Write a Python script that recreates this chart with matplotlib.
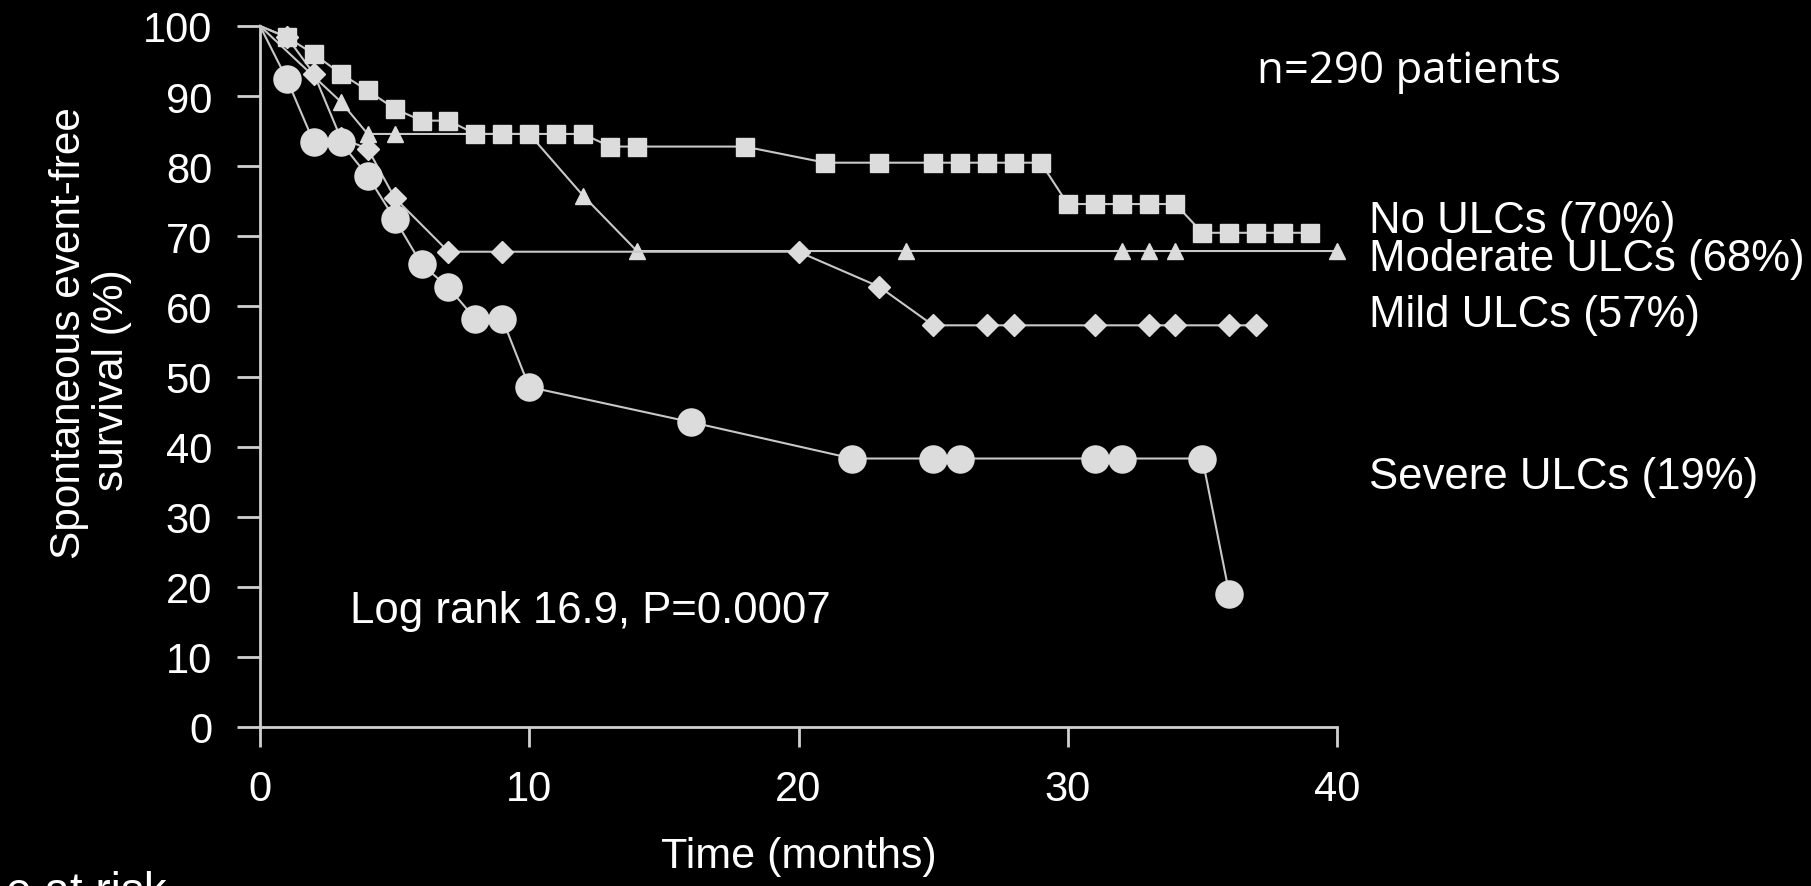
import matplotlib
matplotlib.use("Agg")
import matplotlib.pyplot as plt

# ---------------- data ----------------
t_none = [0, 1, 2, 3, 4, 5, 6, 7, 8, 9, 10, 11, 12, 13, 14, 18, 21, 23, 25, 26, 27, 28, 29,
          30, 31, 32, 33, 34, 35, 36, 37, 38, 39]
s_none = [100, 98.4, 96.0, 93.2, 90.8, 88.2, 86.5, 86.5, 84.6, 84.6, 84.6, 84.6, 84.6, 82.8, 82.8,
          82.8, 80.5, 80.5, 80.5, 80.5, 80.5, 80.5, 80.5, 74.6, 74.6, 74.6, 74.6, 74.6,
          70.5, 70.5, 70.5, 70.5, 70.5]

t_mod = [0, 3, 4, 5, 10, 12, 14, 24, 32, 33, 34, 40]
s_mod = [100, 89.2, 84.6, 84.6, 84.6, 75.8, 67.9, 67.9, 67.9, 67.9, 67.9, 67.9]

t_mild = [0, 1, 2, 3, 4, 5, 7, 9, 20, 23, 25, 27, 28, 31, 33, 34, 36, 37]
s_mild = [100, 98.4, 93.2, 84.0, 82.5, 75.5, 67.8, 67.8, 67.8, 62.8, 57.3, 57.3, 57.3, 57.3,
          57.3, 57.3, 57.3, 57.3]

t_sev = [0, 1, 2, 3, 4, 5, 6, 7, 8, 9, 10, 16, 22, 25, 26, 31, 32, 35, 36]
s_sev = [100, 92.4, 83.4, 83.4, 78.6, 72.5, 66.0, 62.7, 58.2, 58.2, 48.5, 43.5, 38.3, 38.3,
         38.3, 38.3, 38.3, 38.3, 19.0]

x_ticks = [0, 10, 20, 30, 40]
y_ticks = [0, 10, 20, 30, 40, 50, 60, 70, 80, 90, 100]

group_labels = ["No ULCs (70%)", "Moderate ULCs (68%)", "Mild ULCs (57%)", "Severe ULCs (19%)"]
ylabel_lines = ["Spontaneous event-free", "survival (%)"]

# ---------------- figure ----------------
W, H = 1811, 887
fig = plt.figure(figsize=(W / 100, H / 100), dpi=100, facecolor="black")


def fx(x):
    return x / W


def fy(y):
    return 1 - y / H


ax = fig.add_axes([fx(260), fy(728), (1337 - 260) / W, (728 - 27) / H])
ax.set_facecolor("black")

ARIAL = "Liberation Sans"
LINE = "#c8c8c8"
MARK = "#dcdcdc"

common = dict(color=LINE, lw=1.5, clip_on=False, markerfacecolor=MARK,
              markeredgecolor=MARK, markevery=slice(1, None))
ax.plot(t_mod, s_mod, marker="^", ms=11.5, zorder=3, **common)
ax.plot(t_mild, s_mild, marker="D", ms=11.5, zorder=4, **common)
ax.plot(t_sev, s_sev, marker="o", ms=19.5, zorder=5, **common)
ax.plot(t_none, s_none, marker="s", ms=12.5, zorder=6, **common)

ax.set_xlim(0, 40)
ax.set_ylim(0, 100)
for side in ("top", "right"):
    ax.spines[side].set_visible(False)
for side in ("left", "bottom"):
    ax.spines[side].set_color("#d0d0d0")
    ax.spines[side].set_linewidth(2)

ax.set_xticks(x_ticks)
ax.set_yticks(y_ticks)
ax.tick_params(axis="y", direction="out", length=16.5, width=2, color="#d0d0d0",
               labelcolor="white", labelsize=30, pad=18)
ax.tick_params(axis="x", direction="out", length=14.5, width=2, color="#d0d0d0",
               labelcolor="white", labelsize=30, pad=16)
for lab in ax.get_xticklabels() + ax.get_yticklabels():
    lab.set_fontfamily(ARIAL)

ax.set_xlabel("Time (months)", fontsize=31, color="white", fontfamily=ARIAL)
ax.xaxis.set_label_coords(fx(799), fy(857), transform=fig.transFigure)
ax.xaxis.label.set_va("center")

# y axis title (two lines, each centred separately as in the reference)
fig.text(fx(69), fy(333), ylabel_lines[0], rotation=90, fontsize=30.5, color="white",
         fontfamily=ARIAL, ha="center", va="center")
fig.text(fx(112), fy(380), ylabel_lines[1], rotation=90, fontsize=30.5, color="white",
         fontfamily=ARIAL, ha="center", va="center")

# group labels
label_y = [222, 259, 316, 478]
for txt, yy in zip(group_labels, label_y):
    fig.text(fx(1369), fy(yy), txt, fontsize=31.5, color="white", fontfamily=ARIAL,
             ha="left", va="center")

fig.text(fx(350), fy(612), "Log rank 16.9, P=0.0007", fontsize=31.5, color="white",
         fontfamily=ARIAL, ha="left", va="center")
fig.text(fx(1257), fy(83), "n=290 patients", fontsize=31.5, color="white",
         fontfamily="Open Sans", ha="left", va="baseline")
fig.text(fx(167), fy(905), "e at risk", fontsize=33, color="white",
         fontfamily=ARIAL, ha="right", va="baseline")

fig.savefig("out.png", dpi=100, facecolor="black")
